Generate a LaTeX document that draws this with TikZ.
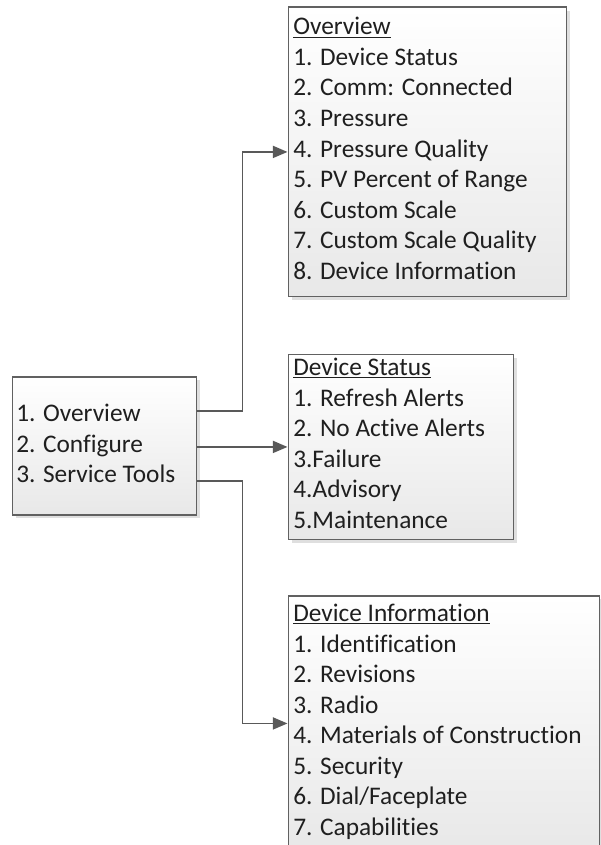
\documentclass[tikz,border=0pt]{standalone}
\usepackage{fontspec}
\setmainfont[Ligatures=NoCommon]{Carlito}
\usetikzlibrary{positioning,arrows.meta,calc,shadows}

\begin{document}
\begin{tikzpicture}[
  x=0.75pt, y=-0.75pt,
  font=\fontsize{19}{23}\selectfont,
  box/.style={draw=black!62, line width=1.4pt, rectangle, inner sep=0pt,
              top color=white, bottom color=black!9,
              drop shadow={shadow xshift=2.5pt, shadow yshift=-2.5pt,
                           fill=black!25, opacity=.5}},
  item/.style={anchor=base west, inner sep=0pt, text=black!88},
  arr/.style={-{Triangle[length=11pt, width=9pt]}, draw=black!65, line width=1.4pt},
]
\useasboundingbox (0,0) rectangle (600,845);
\node[box, minimum width=184pt*0.75, minimum height=138pt*0.75, anchor=north west] (menu) at (11.5,376) {};
\node[box, minimum width=278pt*0.75, minimum height=289pt*0.75, anchor=north west] (ov) at (287.5,6.5) {};
\node[box, minimum width=225pt*0.75, minimum height=185pt*0.75, anchor=north west] (ds) at (287.5,353.5) {};
\node[box, minimum width=311pt*0.75, minimum height=255pt*0.75, anchor=north west] (di) at (287.5,595) {};

\foreach \t [count=\i] in {1. Overview, 2. Configure, 3. Service Tools}
  \node[item] (m\i) at (16, 391+\i*30.5) {\t};

\node[item] (ovt) at (293,35) {\underline{Overview}};
\foreach \t [count=\i] in {1. Device Status, 2. Comm: Connected, 3. Pressure,
    4. Pressure Quality, 5. PV Percent of Range, 6. Custom Scale,
    7. Custom Scale Quality, 8. Device Information}
  \node[item] (ov\i) at (293, 35+\i*30.5) {\t};

\node[item] (dst) at (293,375.5) {\underline{Device Status}};
\foreach \t [count=\i] in {1. Refresh Alerts, 2. No Active Alerts, 3.Failure,
    4.Advisory, 5.Maintenance}
  \node[item] (ds\i) at (293, 375.5+\i*30.5) {\t};

\node[item] (dit) at (293,621.5) {\underline{Device Information}};
\foreach \t [count=\i] in {1. Identification, 2. Revisions, 3. Radio,
    4. Materials of Construction, 5. Security, 6. Dial/Faceplate,
    7. Capabilities}
  \node[item] (di\i) at (293, 621.5+\i*30.5) {\t};

\coordinate (bus) at ($(menu.east)!.5!(ov.west)$);
\draw[arr] ($(menu.east)+(0,-35)$) -| (bus |- ov.west) -- (ov.west);
\draw[arr] (menu.east |- ds.west) -- (ds.west);
\draw[arr] ($(menu.east)+(0,35)$) -| (bus |- di.west) -- (di.west);
\end{tikzpicture}
\end{document}
